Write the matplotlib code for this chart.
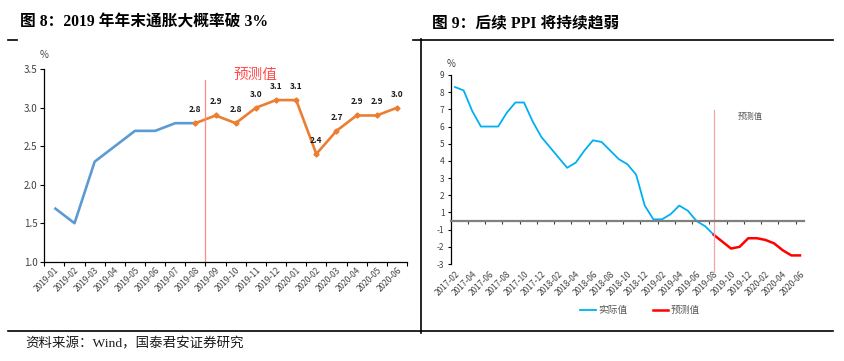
import numpy as np
import matplotlib
matplotlib.use("Agg")
import matplotlib.pyplot as plt
from matplotlib.lines import Line2D

plt.rcParams['font.family'] = ['Noto Sans CJK SC', 'DejaVu Sans']
plt.rcParams['axes.unicode_minus'] = False

W, H = 845, 361

# ---- figure 8 data: CPI y/y, %
cpi_months = ["2019-01", "2019-02", "2019-03", "2019-04", "2019-05", "2019-06",
              "2019-07", "2019-08", "2019-09", "2019-10", "2019-11", "2019-12",
              "2020-01", "2020-02", "2020-03", "2020-04", "2020-05", "2020-06"]
cpi_actual = [1.7, 1.5, 2.3, 2.5, 2.7, 2.7, 2.8, 2.8]
cpi_forecast = [2.8, 2.9, 2.8, 3.0, 3.1, 3.1, 2.4, 2.7, 2.9, 2.9, 3.0]
cpi_yticks = [1.0, 1.5, 2.0, 2.5, 3.0, 3.5]

# ---- figure 9 data: PPI y/y, %
ppi_months = ["2017-02", "2017-03", "2017-04", "2017-05", "2017-06", "2017-07", "2017-08",
              "2017-09", "2017-10", "2017-11", "2017-12", "2018-01", "2018-02", "2018-03",
              "2018-04", "2018-05", "2018-06", "2018-07", "2018-08", "2018-09", "2018-10",
              "2018-11", "2018-12", "2019-01", "2019-02", "2019-03", "2019-04", "2019-05",
              "2019-06", "2019-07", "2019-08", "2019-09", "2019-10", "2019-11", "2019-12",
              "2020-01", "2020-02", "2020-03", "2020-04", "2020-05", "2020-06"]
ppi_actual = [7.8, 7.6, 6.4, 5.5, 5.5, 5.5, 6.3, 6.9, 6.9, 5.8, 4.9,
              4.3, 3.7, 3.1, 3.4, 4.1, 4.7, 4.6, 4.1, 3.6, 3.3, 2.7, 0.9,
              0.1, 0.1, 0.4, 0.9, 0.6, 0.0, -0.3, -0.8]
ppi_forecast = [-0.8, -1.2, -1.6, -1.5, -1.0, -1.0, -1.1, -1.3, -1.7, -2.0, -2.0]
ppi_yticks = [-2.5, -1.5, -0.5, 0.5, 1.5, 2.5, 3.5, 4.5, 5.5, 6.5, 7.5, 8.5]
ppi_yticklabels = ["-3", "-2", "-1", "1", "2", "3", "4", "5", "6", "7", "8", "9"]


def fx(x):
    return x / W


def fy(y):
    return 1 - y / H


fig = plt.figure(figsize=(W / 100, H / 100), dpi=100)

serif_cjk = ['Liberation Serif', 'Noto Sans CJK SC']
fig.text(fx(20), fy(23), "图 8：2019 年年末通胀大概率破 3%", fontsize=11.3,
         fontweight='bold', family=serif_cjk, va='center', ha='left')
fig.text(fx(432), fy(23), "图 9：后续 PPI 将持续趋弱", fontsize=11.3,
         fontweight='bold', family=serif_cjk, va='center', ha='left')
fig.text(fx(25), fy(344), "资料来源：Wind，国泰君安证券研究", fontsize=9.7,
         family=serif_cjk, va='center', ha='left', color='#1a1a1a')

# frame lines
for xs, ys in [((8, 17), (40, 40)), ((413, 833), (40, 40)),
               ((421, 421), (39, 333)), ((8, 833), (331, 331))]:
    fig.add_artist(Line2D([fx(v) for v in xs], [fy(v) for v in ys],
                          color='black', lw=1.2))

# ================= left chart =================
ax1 = fig.add_axes([fx(44.3), fy(261.7), (407 - 44.3) / W, (261.7 - 69.3) / H])
n1 = len(cpi_months)
x_act = np.arange(len(cpi_actual))
x_fc = np.arange(len(cpi_actual) - 1, len(cpi_actual) - 1 + len(cpi_forecast))
ax1.plot(x_act, cpi_actual, color='#5b9bd5', lw=1.9, solid_capstyle='butt')
ax1.plot(x_fc, cpi_forecast, color='#ed7d31', lw=1.9, marker='D', ms=2.6)
for xi, v in zip(x_fc, cpi_forecast):
    ax1.annotate(f"{v:.1f}", (xi, v), xytext=(0, 6.5), textcoords='offset points',
                 ha='center', va='bottom', fontsize=6, fontweight='bold', color='#1a1a1a')

split = len(cpi_actual) - 0.5
ax1.plot([split, split], [1.0, 3.36], color='#ff8a8a', lw=0.9, clip_on=False)
ax1.text(x_fc[3], 3.42, "预测值", color='#ff4b4b', fontsize=10.5,
         ha='center', va='center')

ax1.set_xlim(-0.5, n1 - 0.5)
ax1.set_ylim(1.0, 3.5)
ax1.set_yticks(cpi_yticks)
ax1.set_yticklabels([f"{v:.1f}" for v in cpi_yticks])
ax1.set_xticks(np.arange(-0.5, n1, 1.0))
ax1.set_xticklabels([])
ax1.set_xticks(np.arange(n1), minor=True)
ax1.set_xticklabels(cpi_months, minor=True, rotation=45, ha='right',
                    rotation_mode='anchor', fontsize=6, color='#404040')
ax1.tick_params(axis='x', which='major', length=3, width=0.8, direction='out')
ax1.tick_params(axis='x', which='minor', length=0, pad=3)
ax1.tick_params(axis='y', length=3, width=0.8, labelsize=7, labelcolor='#404040', pad=2)
for s in ['top', 'right']:
    ax1.spines[s].set_visible(False)
for s in ['left', 'bottom']:
    ax1.spines[s].set_linewidth(0.9)
fig.text(fx(44), fy(55), "%", fontsize=7, color='#404040', ha='center', va='center')

# ================= right chart =================
ax2 = fig.add_axes([fx(450.7), fy(264), (804.3 - 450.7) / W, (264 - 75) / H])
n2 = len(ppi_months)
xa = np.arange(len(ppi_actual))
xf = np.arange(len(ppi_actual) - 1, len(ppi_actual) - 1 + len(ppi_forecast))
ax2.plot(xa, ppi_actual, color='#00b0f0', lw=1.3, label='实际值')
ax2.plot(xf, ppi_forecast, color='#ff0000', lw=1.8, label='预测值')

fc_start = len(ppi_actual) - 1
ax2.plot([fc_start, fc_start], [6.45, -2.97], color='#f4a6a6', lw=0.9, clip_on=False)
ax2.text(fc_start + 4.2, 6.06, "预测值", color='#595959', fontsize=6,
         ha='center', va='center')

ax2.set_xlim(-0.5, n2 - 0.5)
ax2.set_ylim(-2.5, 8.5)
ax2.set_yticks(ppi_yticks)
ax2.set_yticklabels(ppi_yticklabels)
ax2.tick_params(axis='y', length=2.5, width=0.8, labelsize=6, labelcolor='#404040', pad=2)

ax2.spines['bottom'].set_position(('data', 0))
ax2.spines['bottom'].set_color('#808080')
ax2.spines['bottom'].set_linewidth(1.6)
ax2.set_xticks(np.arange(1.5, n2 - 1, 2.0))
ax2.tick_params(axis='x', length=2.5, width=0.8, direction='out', labelbottom=False,
                color='#404040')
sec = ax2.secondary_xaxis('bottom')
sec.set_xticks(np.arange(0, n2, 2))
sec.set_xticklabels(ppi_months[::2], rotation=45, ha='right', rotation_mode='anchor',
                    fontsize=6, color='#404040')
sec.tick_params(length=0, pad=4)
sec.spines['bottom'].set_visible(False)
for s in ['top', 'right']:
    ax2.spines[s].set_visible(False)
ax2.spines['left'].set_linewidth(0.9)
fig.text(fx(451), fy(64), "%", fontsize=7, color='#404040', ha='center', va='center')

ax2.legend(ncol=2, frameon=False, loc='center', bbox_to_anchor=(fx(640), fy(310)),
           bbox_transform=fig.transFigure, fontsize=7, handlelength=1.6,
           handletextpad=0.25, columnspacing=2.6, labelcolor='#595959')

fig.savefig("out.png", dpi=100)
